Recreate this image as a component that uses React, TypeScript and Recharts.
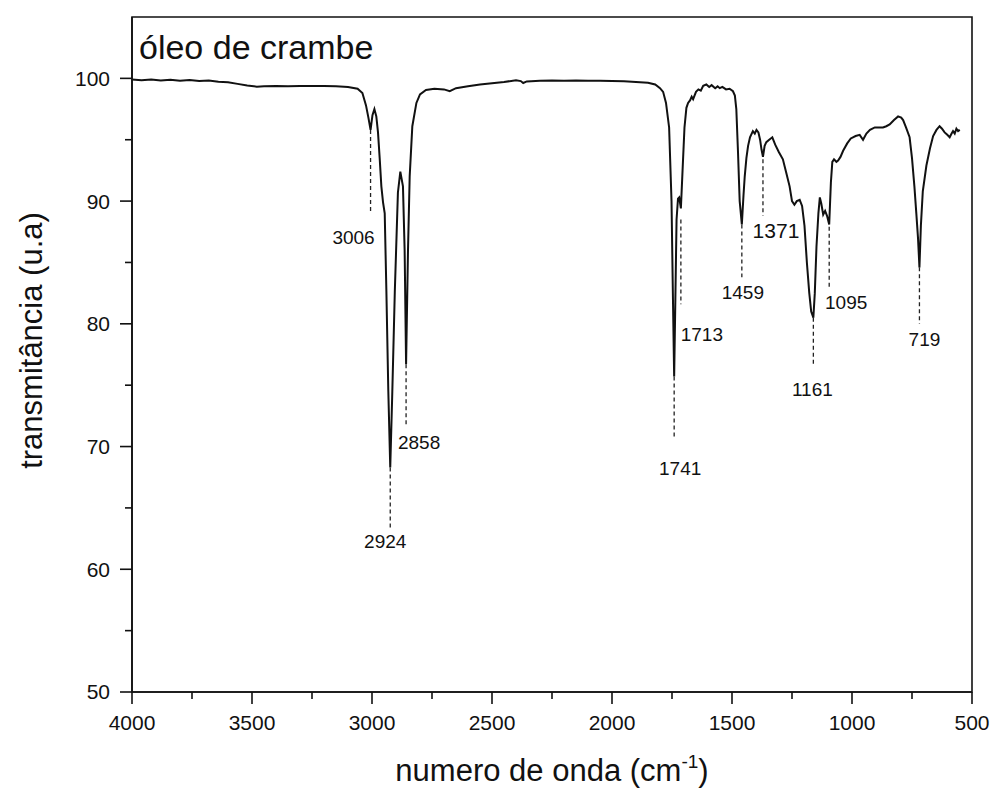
import { Line, LineChart, ReferenceArea, ReferenceLine, XAxis, YAxis } from "recharts";

// FTIR spectrum of crambe oil (wavenumber in cm-1, transmittance in a.u.)
const wavenumbers = [
  4000, 3960, 3920, 3880, 3840, 3800, 3760, 3720, 3680, 3640, 3600, 3560, 3520, 3480, 3450,
  3400, 3350, 3300, 3250, 3200, 3150, 3100, 3060, 3040, 3025, 3015, 3006, 2998, 2990, 2982,
  2975, 2968, 2961, 2954, 2947, 2940, 2932, 2924, 2916, 2905, 2892, 2882, 2871, 2864, 2858,
  2850, 2843, 2832, 2815, 2800, 2775, 2740, 2700, 2676, 2650, 2600, 2550, 2500, 2450, 2400,
  2380, 2370, 2355, 2300, 2250, 2200, 2150, 2100, 2050, 2000, 1950, 1900, 1850, 1820, 1800,
  1787, 1775, 1762, 1752, 1746, 1741, 1736, 1731, 1725, 1720, 1713, 1706, 1698, 1690, 1683,
  1675, 1668, 1662, 1650, 1640, 1630, 1620, 1607, 1595, 1585, 1570, 1560, 1551, 1540, 1525,
  1510, 1496, 1488, 1482, 1475, 1468, 1459, 1452, 1447, 1440, 1433, 1425, 1413, 1405, 1398,
  1390, 1383, 1377, 1371, 1364, 1357, 1345, 1332, 1320, 1305, 1288, 1275, 1260, 1250, 1240,
  1230, 1218, 1208, 1198, 1188, 1178, 1170, 1161, 1155, 1148, 1140, 1134, 1128, 1120, 1112,
  1104, 1095, 1088, 1082, 1075, 1065, 1058, 1048, 1037, 1020, 1005, 996, 985, 968, 954,
  940, 925, 905, 890, 871, 857, 843, 825, 808, 795, 787, 775, 760, 750, 740,
  732, 725, 719, 713, 705, 690, 675, 662, 648, 635, 625, 614, 603, 593, 585,
  579, 572, 565, 558, 551,
];

const transmittance = [
  99.9, 99.85, 99.9, 99.82, 99.88, 99.8, 99.86, 99.78, 99.82, 99.72, 99.68, 99.55, 99.42, 99.32, 99.35,
  99.38, 99.36, 99.38, 99.37, 99.38, 99.35, 99.3, 99.15, 98.8, 97.8, 96.8, 95.8, 97.0, 97.5, 96.9,
  95.6, 93.5, 91.2, 89.9, 89.0, 82.6, 74.5, 68.3, 74.0, 82.6, 90.7, 92.4, 91.2, 86.0, 76.7,
  86.0, 92.0, 96.1, 98.0, 98.7, 99.05, 99.15, 99.1, 98.95, 99.2, 99.35, 99.5, 99.6, 99.7, 99.85,
  99.78, 99.62, 99.75, 99.8, 99.82, 99.8, 99.82, 99.8, 99.8, 99.78, 99.76, 99.7, 99.65, 99.5, 99.2,
  98.9, 98.0, 96.0, 90.0, 82.0, 75.7, 82.0, 88.5, 90.2, 90.3, 89.4, 92.5, 96.0, 97.6, 98.0,
  98.2, 98.5, 98.3, 98.9, 99.1, 99.0, 99.4, 99.5, 99.3, 99.45, 99.2, 99.35, 99.2, 99.3, 99.1,
  99.15, 98.95, 98.6, 97.5, 94.0, 90.0, 88.1, 90.5, 92.0, 93.5, 94.5, 95.2, 95.7, 95.5, 95.8,
  95.6, 95.0, 94.2, 93.6, 94.5, 94.8, 95.0, 95.2, 94.6, 94.0, 93.4, 92.4, 91.2, 90.0, 89.7,
  90.0, 90.1, 89.6, 88.0, 85.0, 82.5, 81.0, 80.5, 82.5, 86.3, 89.0, 90.3, 89.8, 88.9, 89.2,
  88.8, 88.1, 91.5, 93.2, 93.4, 93.2, 93.3, 93.6, 94.1, 94.7, 95.1, 95.2, 95.3, 95.4, 95.0,
  95.5, 95.8, 96.0, 96.0, 96.0, 96.1, 96.25, 96.6, 96.9, 96.8, 96.6, 96.0, 95.2, 93.5, 91.2,
  89.0, 87.0, 84.6, 88.0, 90.8, 92.9, 94.3, 95.3, 95.8, 96.1, 95.9, 95.6, 95.4, 95.2, 95.5,
  95.7, 95.5, 95.9, 95.7, 95.8,
];

// assigned bands with the span of their dashed marker lines
const peakWavenumbers = [3006, 2924, 2858, 1741, 1713, 1459, 1371, 1161, 1095, 719];
const peakMarkerTop = [95.8, 68.3, 76.7, 75.7, 88.5, 88.1, 93.4, 80.5, 87.9, 84.6];
const peakMarkerBottom = [89.2, 63.4, 71.8, 70.6, 81.6, 83.8, 88.8, 76.5, 83.0, 80.0];

const xTicks = [4000, 3750, 3500, 3250, 3000, 2750, 2500, 2250, 2000, 1750, 1500, 1250, 1000, 750, 500];
const yTicks = [50, 55, 60, 65, 70, 75, 80, 85, 90, 95, 100];

// where each band label sits relative to the lower end of its marker (px)
const peakLabelPlacement = [
  { dx: -17, dy: 33, size: 19 },
  { dx: -5, dy: 20, size: 19 },
  { dx: 13, dy: 25, size: 19 },
  { dx: 6, dy: 36, size: 19 },
  { dx: 21, dy: 37, size: 19 },
  { dx: 1, dy: 22, size: 19 },
  { dx: 13, dy: 22, size: 21 },
  { dx: -1, dy: 29, size: 19 },
  { dx: 17, dy: 22, size: 19 },
  { dx: 5, dy: 22, size: 19 },
];

const data = wavenumbers.map((wn, i) => ({ wn, t: transmittance[i] }));

const FONT = '"Liberation Sans", Arial, Helvetica, sans-serif';
const INK = "#111";
const TICK_MAJOR = 12;
const TICK_MINOR = 7;
const X_TICK_GAP = 11;
const Y_TICK_GAP = 10;

const XTick = (props: any) => {
  const { x, y, payload } = props;
  const axisY = y - TICK_MAJOR - X_TICK_GAP;
  const major = payload.value % 500 === 0;
  return (
    <g>
      <line x1={x} x2={x} y1={axisY} y2={axisY + (major ? TICK_MAJOR : TICK_MINOR)} stroke={INK} strokeWidth={1.6} />
      {major && (
        <text x={x} y={y} dy="0.71em" textAnchor="middle" fontSize={21} fill={INK} fontFamily={FONT}>
          {payload.value}
        </text>
      )}
    </g>
  );
};

const YTick = (props: any) => {
  const { x, y, payload } = props;
  const axisX = x + TICK_MAJOR + Y_TICK_GAP;
  const major = payload.value % 10 === 0;
  return (
    <g>
      <line x1={axisX - (major ? TICK_MAJOR : TICK_MINOR)} x2={axisX} y1={y} y2={y} stroke={INK} strokeWidth={1.6} />
      {major && (
        <text x={x} y={y} dy="0.355em" textAnchor="end" fontSize={21} fill={INK} fontFamily={FONT}>
          {payload.value}
        </text>
      )}
    </g>
  );
};

const XTitle = (props: any) => {
  const { viewBox } = props;
  return (
    <text x={viewBox.x + viewBox.width / 2} y={viewBox.y + 89} textAnchor="middle" fontSize={31} fill={INK} fontFamily={FONT}>
      numero de onda (cm
      <tspan fontSize={19} dy={-13}>-1</tspan>
      <tspan dy={13}>)</tspan>
    </text>
  );
};

const YTitle = (props: any) => {
  const { viewBox } = props;
  const cx = 42;
  const cy = viewBox.y + viewBox.height / 2 - 14;
  return (
    <text x={cx} y={cy} transform={`rotate(-90 ${cx} ${cy})`} textAnchor="middle" fontSize={31} fill={INK} fontFamily={FONT}>
      transmitância (u.a)
    </text>
  );
};

const PanelTitle = (props: any) => {
  const { viewBox } = props;
  return (
    <text x={viewBox.x + 7} y={viewBox.y + 42} fontSize={34} fill={INK} fontFamily={FONT}>
      óleo de crambe
    </text>
  );
};

const peakMarker = (i: number) => (p: any) => {
  const place = peakLabelPlacement[i];
  const bottom = Math.max(p.y1, p.y2);
  return (
    <g>
      <line x1={p.x1} y1={p.y1} x2={p.x2} y2={p.y2} stroke="#222" strokeWidth={1.3} strokeDasharray="4 3" />
      <text x={p.x1 + place.dx} y={bottom + place.dy} textAnchor="middle" fontSize={place.size} fill={INK} fontFamily={FONT}>
        {peakWavenumbers[i]}
      </text>
    </g>
  );
};

export default function App() {
  return (
    <div style={{ position: "absolute", left: 0, top: 0, background: "#fff" }}>
      <LineChart width={991} height={789} data={data} margin={{ top: 17, right: 19, bottom: 0, left: 0 }}>
        <XAxis
          dataKey="wn"
          type="number"
          domain={[500, 4000]}
          reversed
          allowDataOverflow
          ticks={xTicks}
          interval={0}
          height={97}
          tickSize={TICK_MAJOR}
          tickMargin={X_TICK_GAP}
          tickLine={false}
          tick={<XTick />}
          axisLine={{ stroke: INK, strokeWidth: 1.6 }}
          label={{ content: <XTitle /> }}
        />
        <YAxis
          type="number"
          domain={[50, 105]}
          allowDataOverflow
          ticks={yTicks}
          interval={0}
          width={132}
          tickSize={TICK_MAJOR}
          tickMargin={Y_TICK_GAP}
          tickLine={false}
          tick={<YTick />}
          axisLine={{ stroke: INK, strokeWidth: 1.6 }}
          label={{ content: <YTitle /> }}
        />
        <ReferenceArea
          x1={4000}
          x2={500}
          y1={50}
          y2={105}
          fill="none"
          fillOpacity={0}
          stroke={INK}
          strokeWidth={1.6}
          ifOverflow="visible"
          label={{ content: <PanelTitle /> }}
        />
        {peakWavenumbers.map((wn, i) => (
          <ReferenceLine
            key={wn}
            segment={[
              { x: wn, y: peakMarkerTop[i] },
              { x: wn, y: peakMarkerBottom[i] },
            ]}
            ifOverflow="visible"
            shape={peakMarker(i)}
          />
        ))}
        <Line dataKey="t" type="linear" stroke={INK} strokeWidth={2} dot={false} activeDot={false} isAnimationActive={false} />
      </LineChart>
    </div>
  );
}
